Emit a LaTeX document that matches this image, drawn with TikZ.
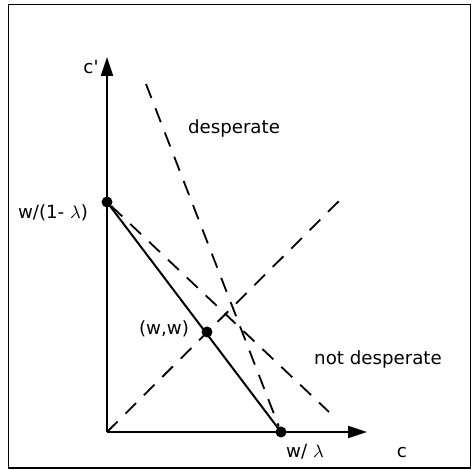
\documentclass[tikz,border=0pt]{standalone}
\usepackage{fontspec}
\setmainfont{DejaVu Sans}
\usepackage{tikz}
\usetikzlibrary{arrows.meta, positioning}

\begin{document}
\begin{tikzpicture}[x=0.5pt, y=0.5pt, font=\fontsize{9.1}{11}\selectfont]
	\tikzset{
		axis/.style={line width=1pt, -{Triangle[length=9.5pt, width=6pt]}},
		guide/.style={line width=0.9pt, dash pattern=on 7.5pt off 5.5pt},
		dot/.style={circle, fill, inner sep=0pt, minimum size=5.5pt},
	}
	\useasboundingbox (-107,-38) rectangle (365,432);
	\draw[line width=0.7pt] (-98.5,-36) rectangle (363.5,427.5);
	% axes
	\coordinate (O) at (0,0);
	\coordinate (ytip) at (0,375);
	\coordinate (xtip) at (260,0);
	\draw[axis] (O) -- (ytip);
	\draw[axis] (O) -- (xtip);
	\node (lblcp) at (-16,365) {c\textquotesingle};
	\node (lblc) at (295,-21) {c};
	% points
	\node[dot] (A) at (0,230) {};
	\node[dot] (B) at (174,0) {};
	\node[dot] (W) at (100,100) {};
	\node (lblA) at (-54,219) {w/(1- $\lambda$)};
	\node (lblB) at (198,-20) {w/ $\lambda$};
	\node (lblW) at (57,103) {(w,w)};
	% budget line and guides
	\draw[line width=1pt] (A.center) -- (B.center);
	\coordinate (diagend) at (233,232);
	\coordinate (steeptop) at (39,348);
	\coordinate (flatend) at (222,20);
	\draw[guide] (O) -- (diagend);
	\draw[guide] (steeptop) -- (B);
	\draw[guide] (A) -- (flatend);
	% regions
	\node (lbldesp) at (127,304) {desperate};
	\node (lblnot) at (271,73) {not desperate};
\end{tikzpicture}
\end{document}
